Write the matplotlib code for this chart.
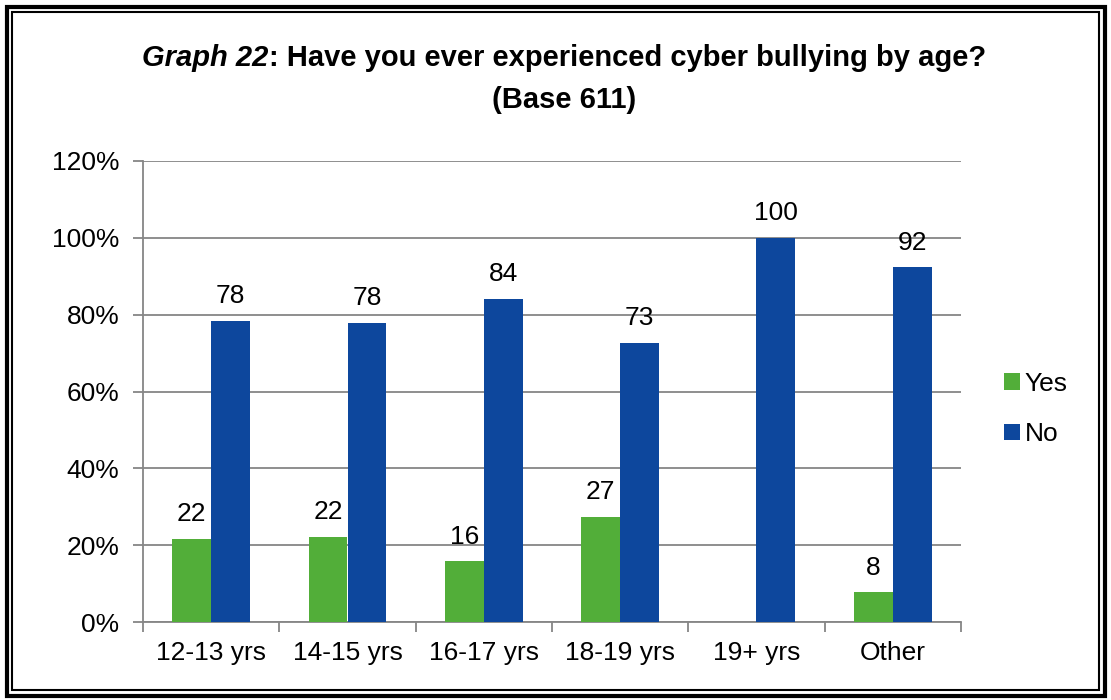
import matplotlib
matplotlib.use("Agg")
import matplotlib.pyplot as plt
from matplotlib.patches import Rectangle
from matplotlib.offsetbox import TextArea, HPacker, AnchoredOffsetbox
import numpy as np

categories = ["12-13 yrs", "14-15 yrs", "16-17 yrs", "18-19 yrs", "19+ yrs", "Other"]
yes_values = [21.6, 22.1, 15.8, 27.3, 0, 7.7]
no_values = [78.4, 77.9, 84.2, 72.7, 100, 92.3]
yes_labels = ["22", "22", "16", "27", "", "8"]
no_labels = ["78", "78", "84", "73", "100", "92"]
series_names = ["Yes", "No"]
yticks = [0, 20, 40, 60, 80, 100, 120]

plt.rcParams['font.family'] = ['Liberation Sans', 'DejaVu Sans']

fig = plt.figure(figsize=(11.11, 7.0), dpi=100)
W, H = 1111, 700

# double border
fig.patches.append(Rectangle((6.5 / W, 1 - 695.5 / H), 1098 / W, 689 / H,
                             transform=fig.transFigure, fill=False, lw=3, ec='black'))
fig.patches.append(Rectangle((12 / W, 1 - 689.5 / H), 1087 / W, 678 / H,
                             transform=fig.transFigure, fill=False, lw=1.5, ec='black'))

ax = fig.add_axes([143 / W, 1 - 622 / H, (961 - 143) / W, (622 - 161) / H])

green = '#52AE39'
blue = '#0D479D'
grid_c = '#868686'
FS = 19

x = np.arange(len(categories))
bw = 0.286
ax.bar(x - bw / 2, yes_values, bw, color=green, label=series_names[0], zorder=3)
ax.bar(x + bw / 2, no_values, bw, color=blue, label=series_names[1], zorder=3)

for i in range(len(categories)):
    if yes_labels[i]:
        ax.text(x[i] - bw / 2, yes_values[i] + 3.3, yes_labels[i], ha='center', va='bottom', fontsize=FS)
    if no_labels[i]:
        ax.text(x[i] + bw / 2, no_values[i] + 3.3, no_labels[i], ha='center', va='bottom', fontsize=FS)

ax.set_xlim(-0.5, len(categories) - 0.5)
ax.set_ylim(0, 120)
ax.set_yticks(yticks)
ax.set_yticklabels([f"{v}%" for v in yticks], fontsize=FS)
ax.yaxis.grid(True, color=grid_c, lw=1.3, zorder=0)
ax.set_axisbelow(True)

ax.set_xticks(x)
ax.set_xticklabels(categories, fontsize=FS)
ax.tick_params(axis='x', length=0, pad=14)
ax.set_xticks(np.arange(-0.5, len(categories)), minor=True)
ax.tick_params(axis='x', which='minor', length=7, width=1.3, color=grid_c, direction='out')
ax.tick_params(axis='y', length=7, width=1.3, color=grid_c, direction='out', pad=10)

for s in ['top', 'right']:
    ax.spines[s].set_visible(False)
for s in ['left', 'bottom']:
    ax.spines[s].set_color(grid_c)
    ax.spines[s].set_linewidth(1.3)

# title: italic-bold part + bold part
TFS = 21
ta1 = TextArea("Graph 22", textprops=dict(fontsize=TFS, fontweight='bold', fontstyle='italic'))
ta2 = TextArea(": Have you ever experienced cyber bullying by age?", textprops=dict(fontsize=TFS, fontweight='bold'))
pack = HPacker(children=[ta1, ta2], align='baseline', pad=0, sep=0)
ab = AnchoredOffsetbox(loc='center', child=pack, frameon=False,
                       bbox_to_anchor=(564 / W, 1 - 58 / H), bbox_transform=fig.transFigure, pad=0, borderpad=0)
fig.add_artist(ab)
fig.text(564 / W, 1 - 100 / H, "(Base 611)", ha='center', va='center', fontsize=TFS, fontweight='bold')

leg = fig.legend(loc='center left', bbox_to_anchor=(980 / W, 1 - 409 / H), frameon=False,
                 fontsize=FS, handlelength=0.6, handleheight=0.6, handletextpad=0.2, labelspacing=1.0)

fig.savefig("out.png", dpi=100)
